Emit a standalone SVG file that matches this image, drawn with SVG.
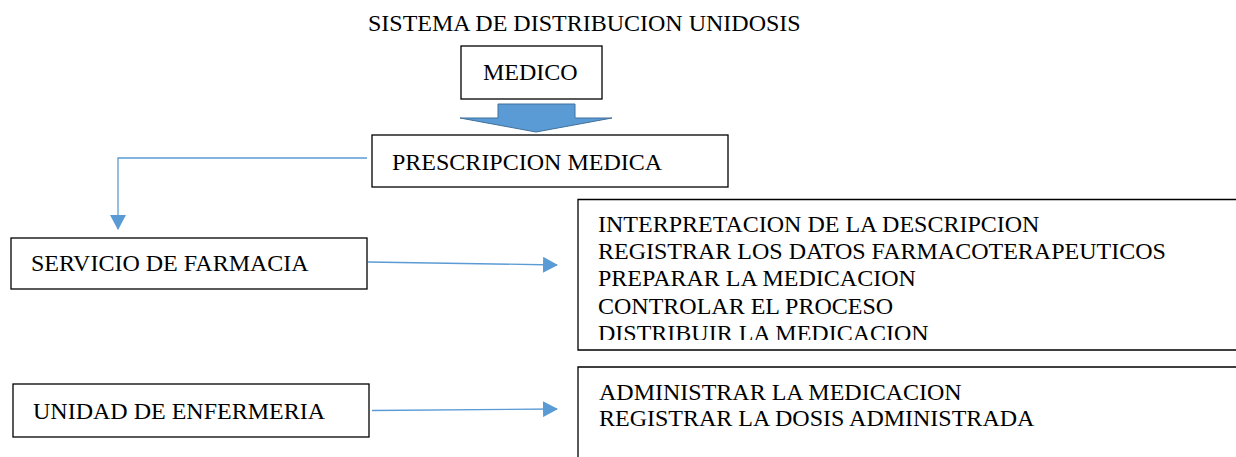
<svg xmlns="http://www.w3.org/2000/svg" width="1236" height="457" viewBox="0 0 1236 457">
<style>
text{font-family:"Liberation Serif","Times New Roman",serif;font-size:24px;fill:#000}
.box{fill:#fff;stroke:#000;stroke-width:1.3}
.conn{fill:none;stroke:#5b9bd5;stroke-width:1.3}
</style>
<defs>
<marker id="ah" markerWidth="16" markerHeight="16" refX="14" refY="8" orient="auto" markerUnits="userSpaceOnUse">
<path d="M0,0 L15,8 L0,16 Z" fill="#5b9bd5"/>
</marker>
<clipPath id="clip1"><rect x="578" y="200" width="658" height="140"/></clipPath>
</defs>
<rect width="1236" height="457" fill="#fff"/>
<text id="title" x="368" y="31">SISTEMA DE DISTRIBUCION UNIDOSIS</text>
<g id="medico">
<rect class="box" x="461" y="46" width="141" height="53"/>
<text x="483" y="80">MEDICO</text>
</g>
<g id="block-arrow">
<path d="M498,104 L575,104 L575,118 L612,118 L536,132 L460,118 L498,118 Z" fill="#5b9bd5" stroke="#41719c" stroke-width="1"/>
</g>
<g id="prescripcion">
<rect class="box" x="372" y="135" width="356" height="52"/>
<text x="392" y="170">PRESCRIPCION MEDICA</text>
</g>
<g id="servicio">
<rect class="box" x="11" y="238" width="356" height="51"/>
<text x="31" y="271">SERVICIO DE FARMACIA</text>
</g>
<g id="farmacia-tareas">
<path class="box" d="M1236,199.5 L578,199.5 L578,350 L1236,350" />
<g clip-path="url(#clip1)">
<text x="598" y="231.5">INTERPRETACION DE LA DESCRIPCION</text>
<text x="598" y="258.5">REGISTRAR LOS DATOS FARMACOTERAPEUTICOS</text>
<text x="598" y="286">PREPARAR LA MEDICACION</text>
<text x="598" y="313.5">CONTROLAR EL PROCESO</text>
<text x="598" y="341">DISTRIBUIR LA MEDICACION</text>
</g>
</g>
<g id="enfermeria">
<rect class="box" x="13" y="384" width="356" height="53"/>
<text x="33" y="419">UNIDAD DE ENFERMERIA</text>
</g>
<g id="enfermeria-tareas">
<path class="box" d="M1236,367 L578,367 L578,458" />
<text x="599" y="400">ADMINISTRAR LA MEDICACION</text>
<text x="599" y="426">REGISTRAR LA DOSIS ADMINISTRADA</text>
</g>
<g id="connectors">
<path class="conn" d="M367,158 L118,158 L118,229" marker-end="url(#ah)"/>
<path class="conn" d="M368,262 L557,265" marker-end="url(#ah)"/>
<path class="conn" d="M372,410.5 L557,409" marker-end="url(#ah)"/>
</g>
</svg>
